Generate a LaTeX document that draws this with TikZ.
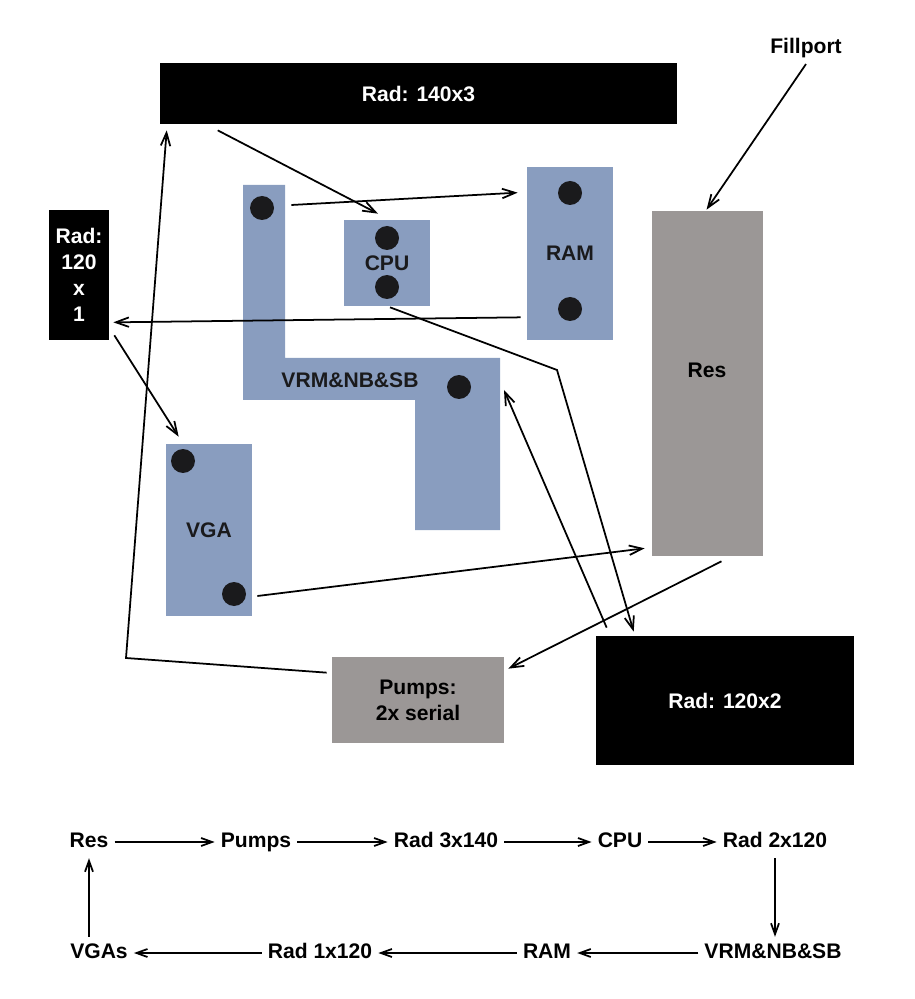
\documentclass[tikz,border=0pt]{standalone}
\usepackage{fontspec}
\setmainfont{Liberation Sans}
\usetikzlibrary{arrows.meta}
\definecolor{blockblue}{RGB}{137,157,191}
\definecolor{resgray}{RGB}{155,151,150}
\definecolor{portblack}{RGB}{26,26,28}
\newcommand{\port}[3] % name, x in px, y in px
{
	% black fitting on a block
	\node[port] (#1) at (#2,#3) {};
}

\begin{document}
\begin{tikzpicture}[x=0.02cm, y=-0.02cm,
	every node/.style={font=\fontsize{12}{14.7}\selectfont\bfseries},
	rad/.style={fill=black, text=white, inner sep=0pt, align=center},
	blk/.style={fill=blockblue, text=portblack, inner sep=0pt},
	tank/.style={fill=resgray, inner sep=0pt, align=center},
	port/.style={fill=portblack, circle, inner sep=0pt, minimum size=4.8mm},
	looplabel/.style={text height=1.7ex, text depth=0.45ex},
	flow/.style={line width=1pt, -{Straight Barb[length=2.6mm,width=1.9mm]}},
	loopline/.style={line width=1pt, -{Straight Barb[length=2.2mm,width=1.6mm]}}]
	\useasboundingbox (0,0) rectangle (914,999);

	% radiators
	\node[rad, minimum width=103.4mm, minimum height=12.2mm] (rad3) at (418.5,93.5) {Rad: 140x3};
	\node[rad, minimum width=12mm, minimum height=26mm] (radone) at (79,275) {Rad:\\120\\x\\1};
	\node[rad, minimum width=51.6mm, minimum height=25.8mm] (radtwo) at (725,700.5) {Rad: 120x2};

	% reservoir and pumps
	\node[tank, minimum width=22.2mm, minimum height=69mm] (res) at (707.5,383.5) {};
	\node (restext) at (707,370) {Res};
	\node[tank, minimum width=34.4mm, minimum height=17.2mm] (pumps) at (418,700) {Pumps:\\2x serial};
	\node (fill) at (806,48) {Fillport};

	% mainboard blocks
	\coordinate (vrmne) at (500,358);
	\fill[blockblue] (243,185) -- (285,185) -- (285,358) -- (vrmne) -- (500,530)
		-- (415,530) -- (415,400) -- (243,400) -- cycle;
	\node[text=portblack] (vrm) at (350,380) {VRM\&NB\&SB};
	\node[blk, minimum width=17.2mm, minimum height=17.2mm] (cpu) at (387,263) {CPU};
	\node[blk, minimum width=17.2mm, minimum height=34.6mm] (ram) at (570,253.5) {RAM};
	\node[blk, minimum width=17.2mm, minimum height=34.4mm] (vga) at (209,530) {VGA};

	\port{vrmin}{262}{208};
	\port{vrmout}{459}{387};
	\port{cpuin}{387}{238};
	\port{cpuout}{387}{287};
	\port{ramin}{570}{193};
	\port{ramout}{570}{309};
	\port{vgain}{183}{461};
	\port{vgaout}{234}{594};

	% tubing
	\coordinate (loop) at (126,658);
	\coordinate (cross) at (557,370);
	\draw[flow] (fill.south) -- ([shift={(-1,-1)}]res.north);
	\draw[flow] ([shift={(14,5)}]res.south) -- ([shift={(4,12)}]pumps.north east);
	\draw[flow] ([shift={(-5,16)}]pumps.north west) -- (loop) -- ([shift={(7,6)}]rad3.south west);
	\draw[flow] ([shift={(58,6)}]rad3.south west) -- ([shift={(-9,-6)}]cpu.north);
	\draw[flow] ([shift={(3,1)}]cpu.south) -- (cross) -- ([shift={(38,-4)}]radtwo.north west);
	\draw[flow] ([shift={(11,-8)}]radtwo.north west) -- ([shift={(4,32)}]vrmne);
	\draw[flow] ([shift={(17,-3)}]vrmin.east) -- ([shift={(-9,26)}]ram.north west);
	\draw[flow] ([shift={(-6,-23)}]ram.south west) -- ([shift={(4,-18)}]radone.south east);
	\draw[flow] ([shift={(5,-5)}]radone.south east) -- ([shift={(13,-7)}]vga.north west);
	\draw[flow] ([shift={(11,2)}]vgaout.east) -- ([shift={(-7,-8)}]res.south west);

	% loop order
	\node[looplabel] (lres) at (89,842) {Res};
	\node[looplabel] (lpumps) at (256,842) {Pumps};
	\node[looplabel] (lradthree) at (446,842) {Rad 3x140};
	\node[looplabel] (lcpu) at (620,842) {CPU};
	\node[looplabel] (lradtwo) at (775,842) {Rad 2x120};
	\node[looplabel] (lvrm) at (773,953) {VRM\&NB\&SB};
	\node[looplabel] (lram) at (547,953) {RAM};
	\node[looplabel] (lradone) at (320,953) {Rad 1x120};
	\node[looplabel] (lvga) at (99,953) {VGAs};

	\draw[loopline] (lres) -- (lpumps);
	\draw[loopline] (lpumps) -- (lradthree);
	\draw[loopline] (lradthree) -- (lcpu);
	\draw[loopline] (lcpu) -- (lradtwo);
	\draw[loopline] (lradtwo.south) -- (lradtwo.south |- lvrm.north);
	\draw[loopline] (lvrm) -- (lram);
	\draw[loopline] (lram) -- (lradone);
	\draw[loopline] (lradone) -- (lvga);
	\draw[loopline] (lres.south |- lvga.north) -- (lres.south);
\end{tikzpicture}
\end{document}
